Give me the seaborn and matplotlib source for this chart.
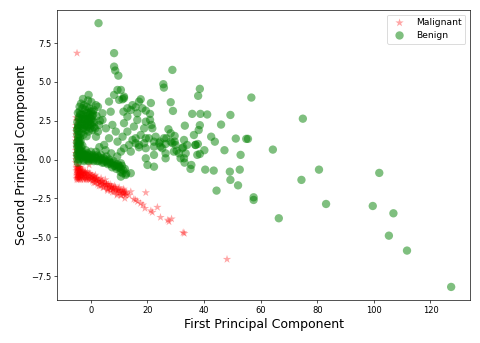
import matplotlib
matplotlib.use("Agg")
import matplotlib.pyplot as plt
import seaborn as sns
import pandas as pd

# Malignant points (first PC, second PC)
mal_pc1 = [-4.9, -5.2, -5.0, 48.1, 32.6, 33.0, 28.5, 27.6, 27.2, 24.6, 23.5, 21.7, 21.2,
           19.1, 18.4, 19.4, 17.6, 15.8, 15.2, 16.5, 14.1, 13.5, -0.6,
           -5.2, -5.2, -5.3, -5.2, -5.3, -5.2, -5.3, -5.2, -5.3, -5.2, -5.3, -5.2, -5.3,
           -5.1, -5.0, -4.9, -4.8, -4.7, -4.6, -4.5, -4.4, -4.3, -4.2, -4.1, -4.0, -3.9,
           -3.8, -3.7, -3.6, -3.5, -3.3, -3.1, -3.0, -2.8, -2.6, -2.4, -2.2, -2.0, -1.8,
           -1.5, -1.3, -1.0, -0.8, -0.5, -0.2, 0.0, 0.3, 0.6, 0.9, 1.2, 1.5, 1.8, 2.1,
           2.4, 2.8, 3.1, 3.5, 3.8, 4.2, 4.6, 5.0, 5.4, 5.8, 6.2, 6.6, 7.0, 7.4, 7.8,
           8.2, 8.6, 9.0, 9.4, 9.8, 10.2, 10.6, 11.0, 11.4, 11.8, 12.2, 11.6, 12.0,
           -5.0, -4.8, -4.6, -4.4, -4.2, -4.0, -3.8, -3.6, -3.4, -3.2, -5.1, -4.9, -4.7,
           -4.5, -4.3, -2.9, -2.5, -2.1, -1.7, -1.2, -0.7, -0.3, 0.4, 1.0, 1.6, 2.2, 2.9,
           3.6, 4.3, 5.1, 5.9, 6.8, 7.6, 8.4, 9.2, 10.0, 10.8, 11.6, 12.4, 1.3, 3.3, 5.6,
           7.2, 9.6,
           -5.1, -4.9, -4.6, -4.3, -4.0, -3.7, -3.4, -3.0, -2.7, -2.3, -1.9, -1.6, -1.1,
           -0.6, -0.1, 0.5, 1.1, 1.7, 2.6, 3.4, 4.0, 4.8, 5.5, 6.3, 7.1, 7.9, 8.7, 9.5,
           10.3, 11.1, 11.9, 12.6, -4.2, -3.5, -2.0, 0.8, 2.0, 4.5, 6.0, 8.0]
mal_pc2 = [6.85, 2.7, 2.5, -6.42, -4.7, -4.75, -3.82, -4.0, -3.9, -3.72, -3.07, -3.4, -3.3,
           -3.14, -2.92, -2.13, -2.82, -2.6, -2.55, -2.7, -2.07, -2.3, -0.35,
           2.2, 1.8, 1.4, 1.0, 0.6, 0.2, -0.2, 0.0, 2.0, 1.6, 1.2, 0.8, 0.4,
           -0.5, -0.8, -1.1, -0.6, -0.9, -1.2, -0.7, -1.0, -0.5, -0.8, -1.1, -0.6, -0.9,
           -1.2, -0.7, -1.0, -0.8, -1.1, -0.7, -0.9, -1.2, -0.8, -1.0, -1.2, -0.9, -1.1,
           -0.9, -1.2, -1.0, -1.3, -1.1, -1.3, -1.0, -1.2, -1.4, -1.1, -1.3, -1.5, -1.2, -1.4,
           -1.6, -1.3, -1.5, -1.7, -1.4, -1.6, -1.8, -1.5, -1.7, -1.9, -1.6, -1.8, -2.0, -1.7,
           -1.9, -2.1, -1.8, -2.0, -2.2, -1.9, -2.1, -2.3, -2.0, -2.2, -2.1, -2.3, -1.9, -2.5,
           -1.0, -0.4, -0.9, -1.2, -0.5, -1.0, -0.6, -1.3, -0.9, -0.6, -1.2, -0.6, -1.0,
           -0.5, -1.3, -1.0, -1.3, -0.8, -1.3, -0.8, -1.2, -0.9, -1.0, -1.5, -1.0, -1.2, -1.7,
           -1.2, -1.8, -1.3, -2.0, -1.6, -2.1, -1.7, -2.3, -1.8, -2.3, -2.0, -2.1, -1.1, -1.4,
           -1.6, -1.8, -2.0,
           -0.7, -1.3, -0.5, -0.8, -1.2, -0.5, -1.1, -0.8, -1.1, -0.9, -1.0, -1.2, -1.1,
           -0.9, -1.2, -1.1, -1.2, -1.3, -1.4, -1.5, -1.4, -1.6, -1.6, -1.7, -1.8, -1.9, -1.9,
           -2.0, -2.0, -2.1, -2.2, -2.2, -0.7, -0.9, -0.8, -1.3, -1.3, -1.5, -1.9, -1.8]

# Benign points
ben_pc1 = [2.7, 8.2, 8.2, 8.6, 9.7, 28.8, 25.6, 25.8, 38.5, 37.9, 56.7, 21.2, 28.2, 29.0,
           35.8, 38.7, 41.1, 49.3, 33.2, 38.5, 46.0, 36.4, 42.5, 43.8, 51.2, 54.9, 55.5,
           74.9, 64.3, 47.2, 40.1, 52.9, 40.4, 43.4, 49.1, 52.6, 49.3, 52.0, 44.4, 57.5,
           57.5, 66.4, 74.4, 80.6, 83.1, 101.9, 99.6, 106.9, 105.3, 111.7, 127.3, 38.1,
           36.9, 29.6, 32.9, 34.0, 37.0, 30.3, 29.9, 33.5, 38.5, 31.7, 33.1, 35.5, 35.2,
           28.8, 29.3, 37.8, 27.4, 28.2, 26.7, 29.6, 32.6,
           11.2, 11.7, 10.6, 17.0, 17.6, 15.8, 19.4, 20.9, 14.1, 11.5, 12.9, 16.4, 20.9,
           21.4, 18.8, 15.2, 11.7, 12.9, 17.6, 15.8, 20.5, 22.3, 24.4, 18.8, 24.6, 26.4,
           11.7, 13.5, 15.8, 17.0, 19.4, 22.3, 24.1, 25.2, 26.4, 22.3, 19.4, 20.0, 22.3,
           26.4, 31.1, 32.9, 37.6, 10.6, 11.2, 12.3, 14.1, 10.6,
           6.4, 8.2, 9.4, 10.0, 11.7, -0.8, 1.8, 4.1, 7.0, 12.9, 14.7, 18.2, 16.4, 19.4,
           21.7, 22.9, 25.8, 28.2, 32.3, 5.3, 7.6, 8.8, 11.2, 14.7, 17.0, 19.4, 4.1, 0.6,
           2.9, 1.8, 6.4, 9.4, 4.7, 10.6, 14.1,
           -4.0, -3.5, -3.0, -2.5, -2.0, -1.5, -1.0, -0.5, 0.0, 0.5, 1.0, -3.8, -3.2, -2.7,
           -2.2, -1.7, -1.2, -0.7, -0.2, 0.3, 1.2, -3.6, -3.0, -2.4, -1.8, -1.3, -0.8, -0.3,
           0.5, 1.5, 2.0, 2.5, -4.2, -4.4, -3.4, -2.6, -1.5, 2.5, 3.2, -1.0, 0.2, -2.8,
           -4.8, -4.7, -4.8, -4.6, -4.8, -4.7, -4.8, -4.6, -4.5, -4.4, -4.5, -4.3, -4.5,
           -4.4, -4.2, -4.1, -4.2, -4.0, -4.1, -3.9, -3.8, -3.8, -3.6, -3.5, -3.3, -3.0,
           -4.9, -4.9, -4.9,
           -3.2, -2.8, -2.5, -2.2, -1.8, -1.5, -1.2, -0.8, -0.5, 0.0, 0.2, 0.6, 1.0, 1.4,
           1.8, 2.2, 2.6, 3.0, 3.5, 4.0, 4.5, 5.0, 5.5, 6.0, 6.5, 7.0, 7.5, 8.0, 8.5, 9.0,
           9.5, 10.0, 10.5, 11.0, 11.5, 12.0, 12.5, 7.2, 5.2, 3.0, 9.3,
           -4.6, -4.3, -4.0, -3.7, -3.4, -3.1, -2.8, -2.5, -2.2, -1.9, -1.6, -1.3, -1.0,
           -0.7, -0.4, -0.1, 0.2, 0.5, 0.8, 1.1,
           -4.6, -4.2, -3.8, -3.4, -3.0, -2.6, -2.2, -1.8, -1.4, -1.0, -0.6, -0.2, 0.4,
           1.0, 1.6, 2.2, 2.8, 3.4, 4.0, 4.6,
           5.2, 5.8, 6.4, 7.0, 7.6, 8.2, 8.8, 9.4, 10.0, 10.6]
ben_pc2 = [8.78, 6.85, 5.98, 5.73, 5.4, 5.77, 4.85, 4.63, 4.55, 4.1, 3.99, 3.64, 3.69, 3.13,
           2.94, 2.94, 2.9, 2.87, 2.18, 2.21, 2.25, 1.58, 1.47, 1.15, 1.35, 1.33, 1.33,
           2.63, 0.64, 0.6, 0.6, 0.3, -0.65, -0.71, -0.78, -0.65, -1.31, -1.66, -2.0, -2.43,
           -2.6, -3.78, -1.31, -0.65, -2.86, -0.86, -2.99, -3.46, -4.9, -5.86, -8.2, 1.9,
           0.94, 1.52, 1.26, 0.94, 0.94, 0.57, 0.94, 0.4, 0.36, 0.08, -0.2, -0.35, -0.6,
           1.05, 0.51, 1.0, 1.95, 1.69, 1.37, 1.15, 0.79,
           3.88, 4.05, 4.48, 3.73, 3.88, 3.37, 3.15, 2.94, 3.19, 3.08, 2.76, 2.55, 2.55,
           2.23, 2.01, 2.12, 2.34, 1.8, 1.58, 1.37, 1.37, 1.15, 1.15, 1.05, 0.83, 1.0,
           0.73, 0.94, 1.05, 0.79, 0.73, 0.83, 1.05, 0.73, 0.4, 0.3, 0.08, -0.35, -0.46,
           0.08, 0.4, 0.08, 0.3, -0.24, -0.88, -0.99, -0.88, -1.1,
           3.73, 4.16, 4.48, 3.84, 3.95, 4.16, 3.5, 2.98, 3.08, 3.3, 3.5, 3.3, 2.98, 2.44,
           2.01, 1.47, 1.37, 1.15, 0.73, 2.01, 2.23, 1.8, 1.47, 1.26, 0.94, 1.37, 2.55, 3.08,
           2.23, 1.47, 1.37, 1.15, 0.94, 0.51, 0.51,
           3.4, 3.6, 3.3, 3.5, 3.2, 3.4, 3.0, 3.3, 3.1, 2.8, 3.2, 2.9, 2.6, 2.9,
           2.5, 2.8, 2.4, 2.7, 2.3, 2.6, 2.4, 2.2, 2.0, 2.2, 1.9, 2.1, 1.8, 2.0,
           1.9, 2.0, 2.8, 3.4, 2.6, 2.1, 1.7, 1.6, 1.5, 1.8, 2.5, 3.8, 3.7, 3.9,
           2.4, 2.0, 1.6, 1.2, 0.8, 0.4, 0.0, -0.2, 2.2, 1.8, 1.4, 1.0, 0.6,
           0.2, 1.6, 1.2, 0.8, 0.4, 0.0, 1.4, 1.0, 0.6, 1.2, 0.8, 0.5, 0.9,
           1.1, 0.3, 1.9,
           0.2, 0.5, -0.1, 0.3, 0.6, 0.0, 0.4, -0.1, 0.3, 0.5, 0.0, 0.3, -0.1, 0.2,
           0.5, -0.1, 0.2, 0.0, 0.3, -0.2, 0.1, -0.1, 0.2, -0.3, 0.0, -0.2, -0.5, -0.1, -0.4,
           -0.6, -0.3, -0.5, -0.8, -0.4, -0.7, -0.6, -0.9, 0.4, 0.6, 0.8, 0.2,
           3.0, 2.7, 3.1, 2.4, 2.9, 2.3, 2.7, 2.0, 2.6, 2.2, 3.0, 2.6, 2.2,
           2.5, 2.9, 2.6, 2.2, 2.4, 2.9, 2.1,
           0.9, 0.5, 0.3, 0.1, 0.4, 0.0, 0.2, 0.3, 0.1, 0.2, 0.0, 0.1, 0.2,
           0.0, 0.1, 0.3, -0.1, 0.1, 0.0, -0.2,
           0.0, -0.2, -0.1, -0.3, -0.2, -0.4, -0.3, -0.5, -0.4, -0.6]

mal = pd.DataFrame({"pc1": mal_pc1, "pc2": mal_pc2})
ben = pd.DataFrame({"pc1": ben_pc1, "pc2": ben_pc2})

fig = plt.figure(figsize=(8, 343 / 60), dpi=60)
ax = fig.add_axes([0.119, 0.125, 0.86, 0.846])

sns.scatterplot(data=mal, x="pc1", y="pc2", marker="*", color="red", alpha=0.35,
                s=110, edgecolor="none", label="Malignant", ax=ax)
sns.scatterplot(data=ben, x="pc1", y="pc2", marker="o", color="green", alpha=0.5,
                s=100, edgecolor="none", label="Benign", ax=ax)

ax.set_xlabel("First Principal Component", fontsize=15)
ax.set_ylabel("Second Principal Component", fontsize=15)
ax.legend(loc="upper right", fontsize=11, labelspacing=0.4)

fig.savefig("out.png", dpi=60)
